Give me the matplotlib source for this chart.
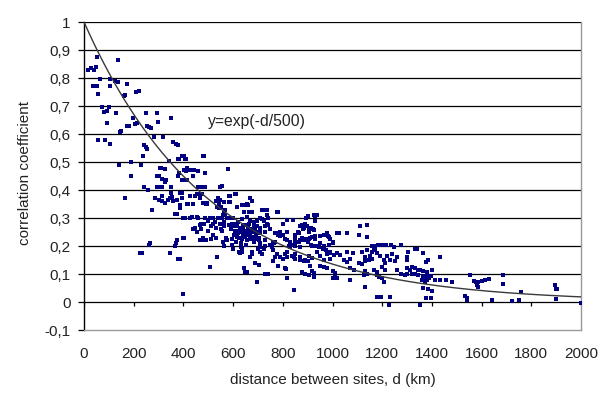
import numpy as np
import matplotlib
matplotlib.use("Agg")
import matplotlib.pyplot as plt

plt.rcParams['font.family'] = ['Liberation Sans', 'DejaVu Sans']

# ---------------- data (distance km, correlation) ----------------
pairs_near = [
    (18,0.83),(28,0.835),(42,0.83),(50,0.84),(52,0.876),(136,0.864),
    (66,0.795),(106,0.795),(126,0.79),(135,0.785),(173,0.78),
    (38,0.77),(52,0.77),(106,0.77),
    (55,0.742),(160,0.735),(163,0.74),(208,0.75),(222,0.755),
    (73,0.697),(99,0.697),(80,0.68),(94,0.683),(130,0.676),
    (93,0.638),(146,0.608),(150,0.61),(175,0.63),(180,0.63),(197,0.657),(207,0.635),(214,0.64),
    (57,0.58),(86,0.58),(103,0.565),
    (139,0.49),(191,0.50),(191,0.45),(230,0.49),(238,0.52),(243,0.56),(250,0.555),(254,0.548),
    (251,0.676),(255,0.63),(260,0.625),(270,0.62),(294,0.674),(298,0.644),(350,0.656),
    (280,0.59),(318,0.59),(360,0.57),(372,0.565),(380,0.562),
    (240,0.41),(258,0.40),(167,0.37),(224,0.174),(234,0.174),(260,0.205),(266,0.21),
]
pairs_mid = [
    (305,0.48),(310,0.478),(324,0.475),(300,0.45),(295,0.45),(313,0.44),(327,0.43),(330,0.435),
    (341,0.505),(377,0.51),(382,0.51),(395,0.52),(401,0.52),(412,0.51),(415,0.478),(381,0.46),
    (377,0.45),(395,0.435),(400,0.435),(404,0.47),(411,0.468),(428,0.47),(443,0.47),(458,0.468),
    (482,0.52),(486,0.46),(460,0.41),(472,0.41),(485,0.41),(455,0.387),(468,0.385),
    (352,0.39),(388,0.39),(395,0.388),(428,0.38),(313,0.38),(294,0.41),(304,0.41),(314,0.41),(352,0.41),
    (549,0.41),(556,0.415),(578,0.474),(589,0.38),(609,0.385),(541,0.37),(666,0.37),
    (287,0.37),(300,0.365),(314,0.36),(327,0.355),(340,0.365),(348,0.37),(356,0.375),(274,0.33),
    (360,0.36),(375,0.365),(395,0.37),(368,0.315),(376,0.315),(385,0.335),(388,0.346),(399,0.30),(405,0.30),
    (416,0.35),(420,0.35),(435,0.305),(455,0.305),(440,0.35),(448,0.38),(468,0.37),(475,0.385),
    (448,0.263),(468,0.275),(482,0.28),(475,0.22),(489,0.35),(495,0.35),(500,0.29),(508,0.30),
    (521,0.28),(529,0.285),(506,0.124),(535,0.34),(549,0.364),(542,0.35),(553,0.34),(564,0.32),(569,0.33),
    (582,0.38),(610,0.385),(589,0.358),(556,0.255),(562,0.27),(575,0.30),(603,0.28),(616,0.28),
    (535,0.162),(400,0.029),(399,0.23),(375,0.22),(369,0.21),(380,0.155),(388,0.155),(348,0.174),
    (368,0.2),(383,0.155),(408,0.51),(479,0.52),(416,0.435),(439,0.45),
    (401,0.23),(453,0.25),(470,0.26),(500,0.255),(468,0.22),(480,0.23),(489,0.222),(510,0.225),
    (520,0.24),(530,0.23),(561,0.215),(573,0.23),
    (440,0.26),(470,0.28),(500,0.29),(510,0.27),(530,0.265),(550,0.26),(428,0.30),(460,0.30),
    (488,0.30),(480,0.353),(496,0.353),(533,0.36),(545,0.335),
    (521,0.30),(540,0.30),(560,0.31),(582,0.30),
]
pairs_dense = [
    (562,0.358),(582,0.358),(656,0.35),(676,0.36),(642,0.32),(717,0.33),(730,0.33),(782,0.32),(556,0.30),(569,0.31),
    (600,0.30),(620,0.287),(635,0.295),(655,0.305),(670,0.29),(683,0.287),(717,0.295),(740,0.30),(817,0.293),
    (843,0.293),(903,0.307),(931,0.307),(549,0.28),(565,0.285),(582,0.275),
    (590,0.26),(600,0.27),(610,0.255),(620,0.245),(630,0.25),(640,0.26),(650,0.255),(660,0.25),(670,0.245),
    (680,0.25),(690,0.26),(700,0.245),(710,0.25),
    (730,0.27),(742,0.275),(770,0.245),(785,0.24),(800,0.238),(818,0.25),(871,0.27),(885,0.265),(905,0.26),
    (924,0.257),(978,0.246),(984,0.233),(1018,0.245),
    (576,0.22),(596,0.225),(616,0.233),(636,0.225),(656,0.22),(676,0.233),(690,0.225),(710,0.21),(730,0.22),
    (750,0.204),(762,0.215),(818,0.22),(850,0.225),(879,0.23),(891,0.22),(905,0.225),(919,0.233),(951,0.21),
    (965,0.2),(985,0.205),(1004,0.215),
    (562,0.2),(600,0.19),(622,0.18),(635,0.18),(676,0.177),(702,0.19),(710,0.18),(762,0.186),(775,0.17),(790,0.162),
    (802,0.155),(818,0.16),(838,0.165),(850,0.152),(870,0.16),(890,0.15),(905,0.165),(919,0.158),(938,0.18),
    (950,0.165),(965,0.15),(978,0.17),(990,0.155),
    (690,0.138),(642,0.12),(649,0.108),(730,0.1),(782,0.13),(810,0.12),(877,0.108),(890,0.1),(905,0.096),
    (924,0.105),(978,0.12),(1010,0.105),
    (595,0.28),(605,0.24),(615,0.27),(625,0.23),(628,0.265),(638,0.24),(645,0.275),(648,0.232),(658,0.265),
    (662,0.238),(665,0.28),(672,0.26),(678,0.23),(685,0.27),(692,0.24),(698,0.27),(705,0.23),(708,0.265),
    (612,0.215),(632,0.21),(652,0.205),(595,0.205),(606,0.255),(618,0.25),(641,0.25),(655,0.24),(668,0.225),(686,0.215),
    (629,0.26),(640,0.27),(650,0.275),(662,0.28),(629,0.175),(635,0.19),(643,0.12),(656,0.108),(662,0.32),(676,0.32),
    (616,0.34),(636,0.345),(650,0.345),(660,0.345),(669,0.16),(676,0.17),(697,0.073),(684,0.215),(694,0.25),
    (704,0.22),(697,0.29),(710,0.30),(723,0.29),(737,0.33),(697,0.27),(737,0.28),(717,0.17),(723,0.19),(703,0.132),
    (741,0.1),(737,0.31),(757,0.2),(763,0.21),(770,0.215),(777,0.32),(762,0.145),(770,0.16),(780,0.24),(787,0.25),
    (801,0.28),(810,0.17),(817,0.18),(814,0.117),(817,0.085),(844,0.043),(824,0.2),(838,0.205),(850,0.21),
    (864,0.215),(844,0.16),(851,0.17),(864,0.245),
    (710,0.196),(730,0.2),(757,0.198),(830,0.196),(850,0.2),(870,0.198),(918,0.2),(938,0.2),(630,0.196),(650,0.205),
    (730,0.25),(750,0.26),(777,0.245),(790,0.235),(810,0.225),(830,0.215),(850,0.24),(862,0.25),(880,0.26),
    (898,0.27),(870,0.22),(890,0.225),(910,0.23),(930,0.225),
]
pairs_far = [
    (890,0.28),(895,0.30),(905,0.25),(915,0.265),(920,0.26),(930,0.29),(938,0.31),(925,0.31),(877,0.275),
    (930,0.235),(950,0.235),(965,0.24),(980,0.235),(990,0.225),(1000,0.215),
    (884,0.22),(900,0.215),(915,0.205),(930,0.2),(945,0.195),(960,0.19),(975,0.185),(990,0.18),(1004,0.21),
    (1025,0.246),(1057,0.246),(1112,0.27),(1140,0.275),(1105,0.24),(1140,0.233),
    (870,0.15),(885,0.145),(900,0.145),(910,0.13),(918,0.11),(925,0.09),
    (950,0.13),(965,0.125),(1000,0.11),(1012,0.1),(1004,0.085),(1018,0.085),
    (991,0.175),(1005,0.168),(1018,0.175),(1032,0.168),
    (1045,0.15),(1058,0.143),(1070,0.155),(1081,0.175),(1060,0.18),
    (1069,0.12),(1085,0.115),(1069,0.079),
    (1105,0.14),(1118,0.135),(1132,0.145),(1145,0.15),(1132,0.16),(1150,0.165),(1160,0.155),
    (1132,0.11),(1140,0.1),(1125,0.095),(1132,0.055),
    (1120,0.18),(1140,0.186),(1158,0.18),(1172,0.186),
    (1165,0.115),(1180,0.107),(1160,0.2),(1165,0.19),(1172,0.2),
    (1185,0.205),(1200,0.205),(1215,0.205),(1235,0.205),(1248,0.198),(1275,0.205),
    (1180,0.175),(1193,0.165),(1207,0.15),(1213,0.138),(1200,0.125),(1213,0.115),(1220,0.165),(1233,0.15),
    (1240,0.17),(1253,0.145),(1260,0.16),
    (1178,0.095),(1188,0.09),(1200,0.085),(1207,0.073),
    (1178,0.017),(1196,0.019),(1230,0.017),(1226,-0.011),
    (1260,0.114),(1275,0.1),(1290,0.097),(1300,0.1),(1320,0.1),(1333,0.1),(1346,0.097),(1333,0.12),(1346,0.115),
    (1313,0.115),(1300,0.12),(1300,0.15),(1305,0.18),(1300,0.16),(1320,0.126),
    (1333,0.19),(1340,0.19),(1364,0.174),(1378,0.144),(1386,0.15),
    (1351,0.115),(1363,0.11),(1380,0.107),
    (1366,0.093),(1380,0.093),(1360,0.08),(1373,0.085),(1387,0.085),(1395,0.093),
    (1366,0.05),(1386,0.045),(1400,0.04),(1378,0.016),(1395,0.016),(1351,-0.011),
    (1373,0.07),(1380,0.078),
    (1431,0.16),(1400,0.114),(1414,0.079),(1433,0.079),(1455,0.077),(1481,0.072),
    (1555,0.096),(1568,0.075),(1578,0.073),(1587,0.07),(1600,0.075),(1614,0.08),(1628,0.083),
    (1583,0.06),(1587,0.055),(1535,0.02),(1540,0.014),(1542,0.007),(1640,0.007),
    (1688,0.096),(1688,0.064),(1722,0.004),(1750,0.007),(1759,0.037),
    (1895,0.06),(1900,0.045),(1905,0.045),(1901,0.01),(2000,-0.005),
]
decay_length_km = 500
x_ticks = [0, 200, 400, 600, 800, 1000, 1200, 1400, 1600, 1800, 2000]
y_ticks = [-0.1, 0, 0.1, 0.2, 0.3, 0.4, 0.5, 0.6, 0.7, 0.8, 0.9, 1.0]
fit_label = "y=exp(-d/500)"
x_label = "distance between sites, d (km)"
y_label = "correlation coefficient"

# ---------------- figure ----------------
W, H = 610, 399
FS = 11
fig = plt.figure(figsize=(W / 100, H / 100), dpi=100)
ax = fig.add_axes([84 / W, (H - 330) / H, (581 - 84) / W, (330 - 22) / H])
ax.set_xlim(0, 2000)
ax.set_ylim(-0.1, 1.0)

for yv in y_ticks[1:]:
    ax.axhline(yv, color='black', lw=0.9, zorder=1)

all_pairs = pairs_near + pairs_mid + pairs_dense + pairs_far
d = np.array([p[0] for p in all_pairs], dtype=float)
r = np.array([p[1] for p in all_pairs], dtype=float)
ax.scatter(d, r, marker='s', s=5.0, color='#000080', linewidths=0, zorder=3)

dc = np.linspace(0, 2000, 300)
ax.plot(dc, np.exp(-dc / decay_length_km), color='#3a3a3a', lw=1.0, zorder=4)
ax.text(498, 0.645, fit_label, fontsize=11.3, color='#222222', ha='left', va='center', zorder=5)

# x tick marks on the zero line
ax.vlines(x_ticks, -0.013, 0, color='black', lw=0.9, zorder=2)

ax.set_xticks(x_ticks)
ax.set_xticklabels([str(v) for v in x_ticks])
ax.set_yticks(y_ticks)
ax.set_yticklabels([("%g" % v).replace('.', ',') for v in y_ticks])
ax.tick_params(axis='x', length=0, pad=12.5, labelsize=FS, labelcolor='#222222')
ax.tick_params(axis='y', length=4, width=0.9, pad=5.5, labelsize=FS, labelcolor='#222222', direction='out')

ax.spines['top'].set_visible(False)
ax.spines['left'].set_color('black')
ax.spines['left'].set_linewidth(1.0)
for s in ('right', 'bottom'):
    ax.spines[s].set_color('#999999')
    ax.spines[s].set_linewidth(1.0)

fig.text(333 / W, 1 - 380 / H, x_label, fontsize=FS, color='#222222', ha='center', va='center')
fig.text(25 / W, 1 - 173 / H, y_label, fontsize=FS, color='#222222', ha='center', va='center', rotation=90)

fig.savefig('out.png', dpi=100)
